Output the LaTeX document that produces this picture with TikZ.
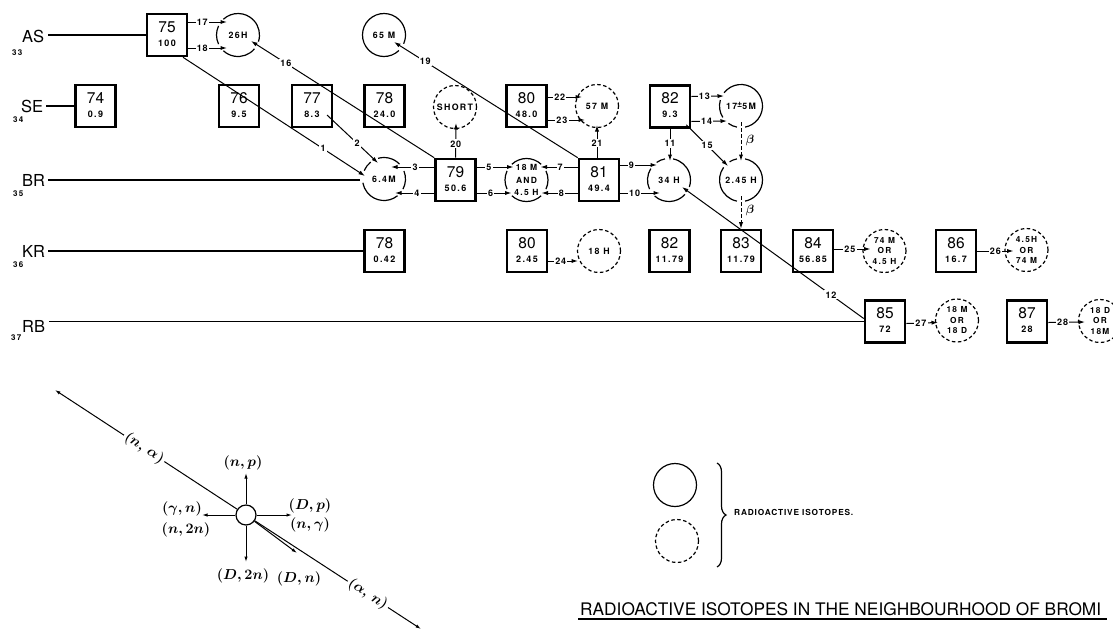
\documentclass[tikz,border=0pt]{standalone}
\usepackage{fontspec}
\setmainfont{TeX Gyre Heros}
\newfontfamily\spacedA[LetterSpace=15]{TeX Gyre Heros}
\newfontfamily\spacedB[LetterSpace=10]{TeX Gyre Heros}
\usetikzlibrary{arrows.meta,calc,decorations.pathreplacing}
\newcommand\massfont{\fontsize{15.5}{16}\selectfont}
\newcommand\abfont{\spacedA\bfseries\fontsize{9}{9}\selectfont}
\newcommand\labfont{\spacedB\bfseries\fontsize{9}{9}\selectfont}
\newcommand\ringfont{\spacedA\bfseries\fontsize{8.8}{10}\selectfont}
\newcommand\elfont{\fontsize{16.5}{17}\selectfont}
\newcommand\zfont{\spacedA\bfseries\fontsize{8}{9}\selectfont}
\newcommand\titlefont{\fontsize{17.3}{18}\selectfont}
\newcommand\handfont{\boldmath\fontsize{15.5}{15.5}\selectfont}
\newcommand\iso[4]{%
  \node[isobox] (#1) at (#2) {};
  \node[masstxt] (#1m) at ([yshift=3pt]#1.center) {#3};
  \node[abtxt] (#1a) at ([yshift=-11pt]#1.center) {#4};}
\newcommand\arcs[2]{\foreach \s/\e in {#2}{\draw[ring] (#1) ++(\s:21.5) arc[start angle=\s, end angle=\e, radius=21.5];}}
\begin{document}
\begin{tikzpicture}[x=1pt,y=-1pt,
  isobox/.style={draw, line width=2.6pt, minimum width=40pt, minimum height=42pt, inner sep=0pt},
  masstxt/.style={font=\massfont, inner sep=0pt, anchor=base},
  abtxt/.style={font=\abfont, inner sep=0pt, anchor=base},
  ringnode/.style={circle, minimum size=43pt, inner sep=0pt, align=center, font=\ringfont},
  dring/.style={ringnode, draw, line width=1.2pt, dash pattern=on 3.5pt off 2.5pt},
  orfont/.style={font=\spacedA\bfseries\fontsize{8.3}{10.5}\selectfont},
  ring/.style={line width=1.2pt},
  conn/.style={line width=1pt, -{Latex[length=6.5pt,width=4.2pt]}},
  lab/.style={fill=white, inner sep=1.2pt, font=\labfont},
  eltxt/.style={font=\elfont, inner sep=0pt, anchor=base west},
  ztxt/.style={font=\zfont, inner sep=0pt, anchor=base west},
  elline/.style={line width=1.2pt},
  hand/.style={font=\handfont, inner sep=0.5pt},
  sarr/.style={line width=1pt, -{Latex[length=5.5pt,width=3.4pt]}},
]
\useasboundingbox (0,0) rectangle (1113,630);

% element rows
\node[eltxt] (AS) at (22,42) {AS};  \node[ztxt] (ASz) at (12,55) {33};
\node[eltxt] (SE) at (21,112) {SE}; \node[ztxt] (SEz) at (13,122) {34};
\node[eltxt] (BR) at (22,186) {BR}; \node[ztxt] (BRz) at (13,196) {35};
\node[eltxt] (KR) at (22,257) {KR}; \node[ztxt] (KRz) at (13,267) {36};
\node[eltxt] (RB) at (22,332) {RB}; \node[ztxt] (RBz) at (11,340) {37};

% stable isotopes
\iso{b75}{167,35}{75}{100}
\iso{b74}{95.5,106}{74}{0.9}
\iso{b76}{239,106}{76}{9.5}
\iso{b77}{312,106}{77}{8.3}
\iso{b78s}{384.5,106}{78}{24.0}
\iso{b80s}{526.5,106}{80}{48.0}
\iso{b82s}{670,106.5}{82}{9.3}
\iso{b79}{455.5,180}{79}{50.6}
\iso{b81}{599,180}{81}{49.4}
\iso{b78k}{384.5,251}{78}{0.42}
\iso{b80k}{527,251}{80}{2.45}
\iso{b82k}{669.5,251}{82}{11.79}
\iso{b83}{741,251}{83}{11.79}
\iso{b84}{813,251}{84}{56.85}
\iso{b86}{956,251}{86}{16.7}
\iso{b85}{885,321.5}{85}{72}
\iso{b87}{1027,321.5}{87}{28}

% radioactive isotopes
\node[ringnode] (c26H) at (238,35) {26H};
\node[ringnode] (c65M) at (384,35) {65 M};
\node[dring] (cShort) at (455,107) {SHORT};
\node[dring] (c57M) at (597,106) {57 M};
\node[ringnode] (c17) at (741,106) {17\raisebox{1.5pt}{\fontsize{9}{9}\selectfont ±}5M};
\node[ringnode] (c64) at (384,179) {6.4M};
\node[ringnode, font=\spacedA\bfseries\fontsize{8.5}{12.5}\selectfont] (c18A) at (526.5,180) {18 M\\AND\\4.5 H};
\node[ringnode] (c34) at (669,180) {34 H};
\node[ringnode] (c245) at (741,180) {2.45 H};
\node[dring] (c18H) at (599,251) {18 H};
\node[dring, orfont] (c74) at (884.5,251) {74 M\\OR\\4.5 H};
\node[dring, orfont] (c45) at (1026.5,250) {4.5H\\OR\\74 M};
\node[dring, orfont] (c18MD) at (957,320.5) {18 M\\OR\\18 D};
\node[dring, orfont] (c18DM) at (1100,321) {18 D\\OR\\18M};

\arcs{c26H}{155/205, 227/378, 40/133}
\arcs{c65M}{46/384}
\arcs{c17}{101/126, 148/196, 218/439}
\arcs{c64}{51/170, 203/232, 254/316, 338/388}
\arcs{c18A}{47/133, 155/205, 227/313, 335/385}
\arcs{c34}{42/132, 155/212, 235/259, 281/379}
\arcs{c245}{101/216, 238/259, 281/439}

% element lines
\draw[elline] ($(AS.east |- b75.west)+(4,0)$) -- (b75.west);
\draw[elline] ($(SE.east |- b74.west)+(3,0)$) -- (b74.west);
\draw[elline] ($(BR.east |- c64.west)+(3,1)$) -- ($(c64.west)+(-2,1)$);
\draw[elline] ($(KR.east |- b78k.west)+(3,0)$) -- (b78k.west);
\draw[elline] ($(RB.east |- b85.west)+(4,0)$) -- (b85.west);

% reactions
\draw[conn] ([xshift=16pt]b75.south) -- node[lab,pos=0.77]{1} ($(c64)+(-19,-3)$);
\draw[conn] ([xshift=15pt,yshift=-9pt]b77.center) -- node[lab,pos=0.59]{2} ($(c64)+(-6,-16)$);
\draw[conn] ([yshift=13pt]b79.west) -- node[lab,pos=0.44]{3} ($(c64)+(7,-12)$);
\draw[conn] ([yshift=-13pt]b79.west) -- node[lab,pos=0.44]{4} ($(c64)+(11,14)$);
\draw[conn] ([yshift=13pt]b79.east) -- node[lab,pos=0.33]{5} ($(c18A)+(-13,-13)$);
\draw[conn] ([yshift=-13pt]b79.east) -- node[lab,pos=0.4]{6} ($(c18A)+(-15,13)$);
\draw[conn] ([yshift=13pt]b81.west) -- node[lab,pos=0.47]{7} ($(c18A)+(14,-13)$);
\draw[conn] ([yshift=-13pt]b81.west) -- node[lab,pos=0.45]{8} ($(c18A)+(15,13)$);
\draw[conn] ([yshift=15pt]b81.east) -- node[lab,pos=0.3]{9} ($(c34)+(-12,-15)$);
\draw[conn] ([yshift=-13pt]b81.east) -- node[lab,pos=0.36]{10} ($(c34)+(-9,13)$);
\draw[conn] (b82s.south) -- node[lab,pos=0.45]{11} ($(c34)+(1,-19)$);
\draw[conn] ([yshift=3pt]b85.west) -- node[lab,pos=0.18]{12} ($(c34)+(13,7)$);
\draw[conn] ([yshift=10pt]b82s.east) -- node[lab,pos=0.4]{13} ($(c17)+(-17,-10)$);
\draw[conn] ([yshift=-15pt]b82s.east) -- node[lab,pos=0.43]{14} ($(c17)+(-14,15)$);
\draw[conn] ([xshift=-5pt,yshift=4pt]b82s.south east) -- node[lab,pos=0.5]{15} ($(c245)+(-13,-14)$);
\draw[conn] (b79.north west) -- node[lab,pos=0.81]{16} ($(c26H)+(13,6)$);
\draw[conn] ([yshift=13pt]b75.east) -- node[lab,pos=0.36]{17} ($(c26H)+(-11,-13)$);
\draw[conn] ([yshift=-13pt]b75.east) -- node[lab,pos=0.36]{18} ($(c26H)+(-11,13)$);
\draw[conn] (b81.north west) -- node[lab,pos=0.83]{19} ($(c65M)+(10,7)$);
\draw[conn] (b79.north) -- node[lab,pos=0.4]{20} ($(cShort)+(1,16)$);
\draw[conn] ([xshift=-2pt]b81.north) -- node[lab,pos=0.45]{21} ($(c57M)+(0,19)$);
\draw[conn] ([yshift=9pt]b80s.east) -- node[lab,pos=0.35]{22} ($(c57M)+(-15,-9)$);
\draw[conn] ([yshift=-14pt]b80s.east) -- node[lab,pos=0.38]{23} ($(c57M)+(-12,14)$);
\draw[conn] ([yshift=-10pt]b80k.east) -- node[lab,pos=0.42]{24} ($(c18H)+(-21,10)$);
\draw[conn] ([yshift=2pt]b84.east) -- node[lab,pos=0.43]{25} ($(c74)+(-14,-2)$);
\draw[conn] (b86.east) -- node[lab,pos=0.5]{26} ($(c45)+(-13,1)$);
\draw[conn] ([yshift=-2pt]b85.east) -- node[lab,pos=0.46]{27} ($(c18MD)+(-19,2)$);
\draw[conn] ([yshift=-1pt]b87.east) -- node[lab,pos=0.39]{28} ($(c18DM)+(-15,1)$);
\draw[conn, dash pattern=on 3.5pt off 2.5pt] ($(c17)+(0,16)$) -- ($(c245)+(0,-19)$);
\draw[conn, dash pattern=on 3.5pt off 2.5pt] ($(c245)+(0,16)$) -- (b83.north);
\node[font=\boldmath\fontsize{12.5}{12.5}\selectfont] (beta1) at (750,140) {$\beta$};
\node[font=\boldmath\fontsize{12.5}{12.5}\selectfont] (beta2) at (750,210) {$\beta$};

% reaction scheme
\node[circle, draw, fill=white, line width=1.2pt, minimum size=20pt, inner sep=0pt] (nuc) at (246,515) {};
\coordinate (ntl) at (55,390);
\coordinate (nbr) at (421,629);
\coordinate (aup) at (246,473);
\coordinate (alf) at (202,515);
\coordinate (art) at (292,515);
\coordinate (adn) at (246,562);
\coordinate (adr) at (297,553);
\draw[sarr] (nuc) -- node[hand, sloped, fill=white, pos=0.51, inner sep=2pt] {$(n,\,\alpha)$} (ntl);
\draw[sarr] (nuc) -- node[hand, sloped, fill=white, pos=0.68, inner sep=2pt] {$(\alpha,\,n)$} (nbr);
\draw[sarr] (nuc) -- (aup);
\draw[sarr] (nuc) -- (alf);
\draw[sarr] (nuc) -- (art);
\draw[sarr] (nuc) -- (adn);
\draw[sarr] (nuc) -- (adr);
\node[hand] (tnp) at (243,463) {$(n,p)$};
\node[hand] (tgn) at (182,509) {$(\gamma,n)$};
\node[hand] (tn2n) at (186,530) {$(n,2n)$};
\node[hand] (tdp) at (310,506) {$(D,p)$};
\node[hand] (tng) at (310,525) {$(n,\gamma)$};
\node[hand] (td2n) at (243,576) {$(D,2n)$};
\node[hand] (tdn) at (299,579) {$(D,n)$};

% legend
\node[circle, draw, line width=1.2pt, minimum size=43pt] (lg1) at (675,485) {};
\node[circle, draw, line width=1.2pt, dash pattern=on 3.5pt off 2.5pt, minimum size=43pt] (lg2) at (677,541) {};
\coordinate (brt) at (717,463);
\coordinate (brb) at (717,567);
\draw[line width=1.2pt, decorate, decoration={brace, amplitude=9pt}] (brt) -- (brb);
\node[font=\spacedB\bfseries\fontsize{8.3}{9}\selectfont, anchor=west, inner sep=0pt] (lgt) at (734,512) {RADIOACTIVE ISOTOPES.};

% title
\node[font=\titlefont, anchor=base west, inner sep=0pt] (title) at (580,615) {RADIOACTIVE ISOTOPES IN THE NEIGHBOURHOOD OF BROMI};
\draw[line width=1.2pt] ($(title.base west)+(-2,4)$) -- ($(title.base east)+(6,4)$);
\end{tikzpicture}
\end{document}
